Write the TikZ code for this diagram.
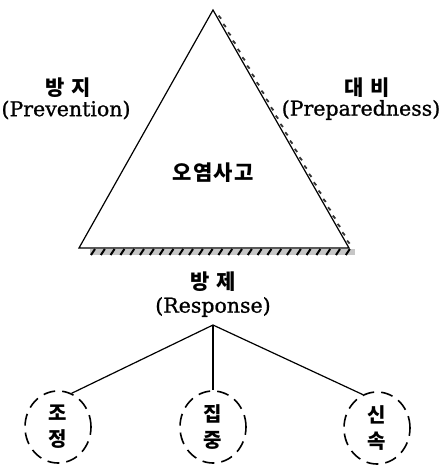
\documentclass[tikz,border=0pt]{standalone}
\usepackage{fontspec}
\setmainfont{DejaVu Serif}
\newfontfamily\latfont[FakeBold=1]{DejaVu Serif}
\newfontfamily\kr[LetterSpace=6]{Noto Sans CJK KR}
\newfontfamily\krc{Noto Sans CJK KR}
\usetikzlibrary{calc,shapes.geometric}
\begin{document}
\begin{tikzpicture}[x=1pt,y=-1pt,
  lbl/.style={font=\fontsize{20.5}{22}\selectfont\latfont, align=center, inner sep=0pt},
  klbl/.style={font=\fontsize{21}{23}\selectfont\kr\bfseries, inner sep=0pt},
  circ/.style={draw, dash pattern=on 12pt off 7pt, line width=1.6pt, ellipse, minimum width=66pt, minimum height=72pt, inner sep=0pt, font=\fontsize{20}{26}\selectfont\krc\bfseries, align=center},
  edge/.style={line width=1.2pt}]
\useasboundingbox (0,0) rectangle (441,469);
% triangle
\coordinate (A) at (213,10);
\coordinate (L) at (79,248);
\coordinate (R) at (349,248);
% hatching under base
\fill[gray!45] (90,249) rectangle (355,255);
\foreach \i in {0,...,26}{
  \draw[line width=2pt] ({91+\i*9.8},255) -- ({95+\i*9.8},249);
}
% hatching along right side
\foreach \t in {0.03,0.065,...,1.0}{
  \path (A) -- (R) coordinate[pos=\t] (h);
  \draw[line width=1.8pt, gray!40!black] ($(h)+(1.5,-1.5)$) -- ($(h)+(4,1.5)$);
}
\draw[line width=1.2pt] (A) -- (L) -- (R) -- cycle;
\node[klbl] (tri) at (213,173) {오염사고};
\node[klbl] (pv) at (68,88) {방 지};
\node[lbl] (pvE) at (66,110) {(Prevention)};
\node[klbl] (pp) at (367,88) {대 비};
\node[lbl] (ppE) at (361,110) {(Preparedness)};
\node[klbl] (rs) at (213,282) {방 제};
\node[lbl] (rsE) at (213,307) {(Response)};
\coordinate (br) at (213,325);
\node[circ] (c1) at (58,427) {조\\정};
\node[circ] (c2) at (213,427) {집\\중};
\node[circ] (c3) at (377,428) {신\\속};
\draw[edge] (br) -- (c1.68);
\draw[edge] (br) -- (c2.north);
\draw[edge] (br) -- (c3.113);
\end{tikzpicture}
\end{document}
